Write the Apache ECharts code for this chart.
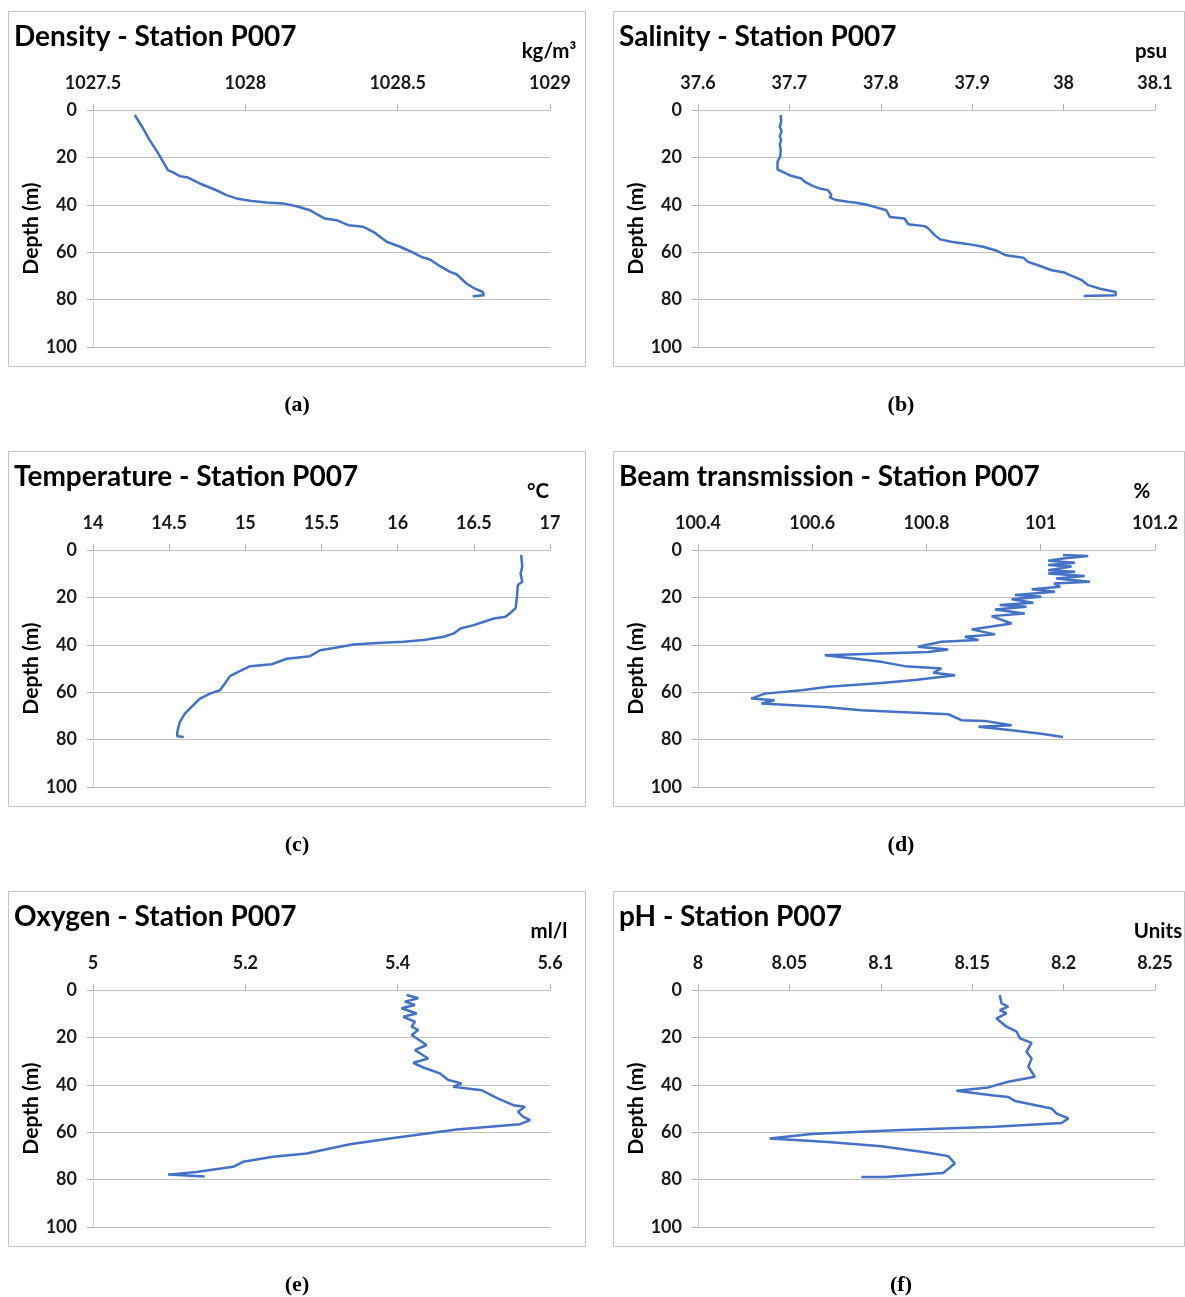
<!DOCTYPE html>
<html>
<head>
<meta charset="utf-8">
<title>Station P007 profiles</title>
<script src="https://cdn.jsdelivr.net/npm/echarts@6/dist/echarts.min.js"></script>
<style>
  html, body { margin: 0; padding: 0; background: #fff; }
  #chart { width: 1185px; height: 1297px; }
</style>
</head>
<body>
<div id="chart"></div>
<script>
// depth axis (m), shared by every panel
var depthTicks = [0, 20, 40, 60, 80, 100];

// x-axis tick labels of each panel
var densityTicks = [1027.5, 1028, 1028.5, 1029];
var salinityTicks = [37.6, 37.7, 37.8, 37.9, 38, 38.1];
var temperatureTicks = [14, 14.5, 15, 15.5, 16, 16.5, 17];
var beamTicks = [100.4, 100.6, 100.8, 101, 101.2];
var oxygenTicks = [5, 5.2, 5.4, 5.6];
var phTicks = [8, 8.05, 8.1, 8.15, 8.2, 8.25];

// profiles: [value, depth]
var density = [
  [1027.637, 2.1], [1027.664, 7.7], [1027.686, 12.7], [1027.714, 18.3], [1027.746, 25.4],
  [1027.763, 26.3], [1027.785, 27.9], [1027.812, 28.5], [1027.85, 31], [1027.883, 32.7],
  [1027.916, 34.5], [1027.938, 35.9], [1027.971, 37.3], [1028.015, 38.3], [1028.069, 39],
  [1028.124, 39.4], [1028.168, 40.6], [1028.212, 42.3], [1028.261, 45.8], [1028.299, 46.5],
  [1028.338, 48.6], [1028.387, 49.3], [1028.42, 51.4], [1028.464, 55.6], [1028.508, 57.7],
  [1028.546, 59.9], [1028.578, 62], [1028.606, 63.1], [1028.639, 65.9], [1028.672, 68.3],
  [1028.693, 69.3], [1028.726, 73.2], [1028.754, 75.4], [1028.779, 76.8], [1028.783, 78.2],
  [1028.746, 78.6]
];
var salinity = [
  [37.6905, 2.1], [37.691, 5], [37.6895, 7], [37.6915, 9], [37.6895, 11], [37.691, 12.7],
  [37.6895, 14.5], [37.6905, 17], [37.690, 19.7], [37.687, 21.8], [37.687, 25.1],
  [37.691, 25.8], [37.700, 27.5], [37.713, 28.9], [37.717, 30.3], [37.726, 32.1],
  [37.733, 33.1], [37.742, 33.8], [37.746, 35.9], [37.744, 36.9], [37.751, 38],
  [37.764, 38.7], [37.775, 39.2], [37.786, 40.1], [37.795, 41.1], [37.806, 42.3],
  [37.810, 45.1], [37.826, 45.8], [37.830, 48.2], [37.848, 49], [37.852, 50],
  [37.859, 52.8], [37.865, 54.6], [37.877, 55.6], [37.896, 56.6], [37.912, 57.7],
  [37.927, 59.4], [37.937, 61.3], [37.956, 62.3], [37.961, 64.1], [37.972, 65.5],
  [37.987, 67.6], [38.001, 68.6], [38.007, 69.7], [38.020, 71.8], [38.027, 73.9],
  [38.040, 75.4], [38.057, 76.8], [38.057, 78.2], [38.022, 78.5]
];
var temperature = [
  [16.811, 2.1], [16.818, 7], [16.807, 9.9], [16.818, 13.4], [16.789, 14.8], [16.781, 21.1],
  [16.774, 24.6], [16.741, 26.5], [16.708, 28.2], [16.632, 28.9], [16.566, 30.3],
  [16.5, 31.7], [16.412, 33.1], [16.368, 35.2], [16.303, 36.6], [16.171, 38],
  [16.039, 38.7], [15.864, 39.2], [15.711, 39.9], [15.601, 41.1], [15.491, 42.3],
  [15.425, 44.8], [15.272, 45.9], [15.173, 48.2], [15.031, 49], [14.954, 51.4],
  [14.899, 53.2], [14.866, 56.3], [14.833, 59.2], [14.768, 60.6], [14.702, 62.7],
  [14.647, 66.2], [14.603, 69], [14.57, 72.5], [14.553, 76.8], [14.553, 78.6], [14.596, 78.9]
];
var beam = [
  [101.039, 2.1], [101.083, 2.5], [101.042, 3.5], [101.013, 4.5], [101.06, 5.4],
  [101.013, 6.3], [101.054, 7], [101.013, 8.5], [101.06, 9.2], [101.013, 9.9],
  [101.077, 11], [101.027, 12], [101.086, 13.4], [101.023, 14.1], [101.034, 15.5],
  [100.984, 16.6], [101.025, 17.6], [100.955, 19], [101.001, 19.7], [100.949, 20.8],
  [100.987, 22.3], [100.928, 23.2], [100.975, 23.9], [100.92, 25.1], [100.972, 26.8],
  [100.914, 27.9], [100.949, 31], [100.879, 33.5], [100.92, 35.6], [100.867, 36.6],
  [100.891, 38], [100.826, 38.7], [100.785, 40.8], [100.838, 42], [100.803, 43],
  [100.622, 44.4], [100.657, 45.4], [100.721, 47.2], [100.762, 49], [100.826, 50],
  [100.812, 51.8], [100.85, 52.8], [100.78, 54.9], [100.721, 56.1], [100.628, 57.7],
  [100.581, 59.2], [100.517, 60.6], [100.493, 62.7], [100.534, 63.4], [100.511, 64.8],
  [100.622, 66.2], [100.686, 67.6], [100.838, 69.3], [100.861, 71.8], [100.902, 72.1],
  [100.949, 73.9], [100.891, 74.6], [100.949, 76.1], [101.001, 77.5], [101.039, 78.9]
];
var oxygen = [
  [5.4117, 2.1], [5.427, 3.5], [5.4095, 4.9], [5.4227, 6.3], [5.405, 7.7], [5.4249, 9.9],
  [5.4074, 11.3], [5.4227, 13.4], [5.4183, 15.5], [5.4271, 16.9], [5.4183, 19],
  [5.438, 23.2], [5.4227, 25.4], [5.4402, 28.9], [5.4205, 30.7], [5.4336, 32.7],
  [5.4555, 35.2], [5.4665, 38], [5.484, 39.4], [5.473, 40.8], [5.5103, 42.3],
  [5.532, 45.8], [5.5519, 48.6], [5.5672, 49.3], [5.558, 51.4], [5.565, 53.5],
  [5.574, 54.9], [5.5607, 56.6], [5.4774, 58.9], [5.4336, 60.8], [5.3898, 62.7],
  [5.3373, 65.1], [5.2803, 69], [5.2365, 70.4], [5.1971, 72.5], [5.184, 74.6],
  [5.1358, 76.8], [5.0986, 77.9], [5.1007, 78.6], [5.1467, 78.7]
];
var ph = [
  [8.1651, 2.1], [8.166, 5.6], [8.1697, 7], [8.1651, 8.5], [8.1688, 9.9], [8.1633, 12],
  [8.1688, 15.5], [8.1743, 17.6], [8.1761, 20.4], [8.1825, 22.3], [8.1797, 26.1],
  [8.1825, 28.9], [8.1807, 32.4], [8.1843, 36.6], [8.1697, 38.7], [8.1588, 41.1],
  [8.1414, 42.5], [8.1606, 44.4], [8.1697, 45.1], [8.1734, 46.8], [8.1934, 50],
  [8.1961, 52.1], [8.2026, 54.2], [8.1989, 56.1], [8.1624, 57.7], [8.1077, 59.2],
  [8.062, 60.8], [8.0392, 62.7], [8.0712, 64.1], [8.1004, 65.9], [8.1259, 68.7],
  [8.1369, 70.1], [8.1405, 73.2], [8.1341, 77.2], [8.1022, 78.9], [8.0894, 78.9]
];

var panels = [
  { title: "Density - Station P007", unit: "kg/m³", ticks: densityTicks, data: density, cap: "a", unitX: 549 },
  { title: "Salinity - Station P007", unit: "psu", ticks: salinityTicks, data: salinity, cap: "b", unitX: 1151 },
  { title: "Temperature - Station P007", unit: "°C", ticks: temperatureTicks, data: temperature, cap: "c", unitX: 538 },
  { title: "Beam transmission - Station P007", unit: "%", ticks: beamTicks, data: beam, cap: "d", unitX: 1142 },
  { title: "Oxygen - Station P007", unit: "ml/l", ticks: oxygenTicks, data: oxygen, cap: "e", unitX: 549 },
  { title: "pH - Station P007", unit: "Units", ticks: phTicks, data: ph, cap: "f", unitX: 1158 }
];

var font = "Lato, 'Open Sans', sans-serif";
var blue = "#4472C4";
var grids = [], xAxes = [], yAxes = [], series = [], titles = [], graphics = [];

panels.forEach(function (p, i) {
  var col = i % 2, row = Math.floor(i / 2);
  var boxLeft = col ? 613 : 8, boxWidth = col ? 571 : 577;
  var boxTop = 11 + row * 440;
  var plotLeft = col ? 698 : 93;
  var plotTop = boxTop + 99;

  graphics.push({
    type: "rect",
    shape: { x: boxLeft + 0.5, y: boxTop + 0.5, width: boxWidth, height: 355 },
    style: { fill: "none", stroke: "#c4c4c4", lineWidth: 1 },
    silent: true
  });

  grids.push({ left: plotLeft, top: plotTop, width: 457, height: 237, containLabel: false });

  var step = +(p.ticks[1] - p.ticks[0]).toFixed(4);
  xAxes.push({
    gridIndex: i,
    type: "value",
    position: "top",
    min: p.ticks[0],
    max: p.ticks[p.ticks.length - 1],
    interval: step,
    axisLine: { show: true, lineStyle: { color: "#c4c4c4" } },
    axisTick: { show: true, length: 6, lineStyle: { color: "#b0b0b0" } },
    splitLine: { show: false },
    axisLabel: {
      margin: 18,
      color: "#1a1a1a",
      fontFamily: font,
      fontWeight: "bold",
      fontSize: 18,
      formatter: function (v) { return String(+v.toFixed(3)); }
    }
  });

  yAxes.push({
    gridIndex: i,
    type: "value",
    inverse: true,
    min: depthTicks[0],
    max: depthTicks[depthTicks.length - 1],
    interval: depthTicks[1] - depthTicks[0],
    name: "Depth (m)",
    nameLocation: "middle",
    nameRotate: 90,
    nameGap: 49,
    nameTextStyle: { color: "#000", fontFamily: font, fontWeight: "bold", fontSize: 21 },
    axisLine: { show: true, lineStyle: { color: "#d0d0d0" } },
    axisTick: { show: true, length: 6, lineStyle: { color: "#b0b0b0" } },
    splitLine: { show: true, lineStyle: { color: "#bfbfbf", width: 1 } },
    axisLabel: { margin: 16, color: "#1a1a1a", fontFamily: font, fontWeight: "bold", fontSize: 18 }
  });

  series.push({
    type: "line",
    xAxisIndex: i,
    yAxisIndex: i,
    data: p.data,
    showSymbol: false,
    smooth: false,
    lineStyle: { color: blue, width: 2.5 },
    itemStyle: { color: blue },
    silent: true
  });

  titles.push({
    text: p.title,
    left: boxLeft + 6,
    top: boxTop + 12,
    padding: 0,
    textStyle: { color: "#000", fontFamily: font, fontWeight: "bold", fontSize: 28 }
  });
  titles.push({
    text: p.unit,
    left: p.unitX,
    top: boxTop + 30,
    textAlign: "center",
    padding: 0,
    textStyle: { color: "#000", fontFamily: font, fontWeight: "bold", fontSize: 20.5 }
  });
  titles.push({
    text: "{p|(}{b|" + p.cap + "}{p|)}",
    left: col ? 901 : 297,
    top: boxTop + 383,
    textAlign: "center",
    padding: 0,
    textStyle: {
      rich: {
        p: { fontFamily: "'Liberation Serif', serif", fontSize: 22, color: "#000" },
        b: { fontFamily: "'Liberation Serif', serif", fontSize: 22, fontWeight: "bold", color: "#000" }
      }
    }
  });
});

var chart = echarts.init(document.getElementById("chart"));
chart.setOption({
  backgroundColor: "#fff",
  animation: false,
  title: titles,
  grid: grids,
  xAxis: xAxes,
  yAxis: yAxes,
  series: series,
  graphic: graphics
});
</script>
</body>
</html>
